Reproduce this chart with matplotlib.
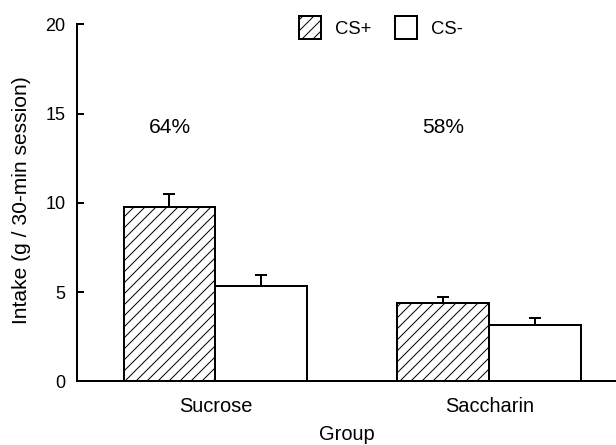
import matplotlib
matplotlib.use("Agg")
import matplotlib.pyplot as plt
from matplotlib.patches import Patch
import numpy as np

DPI = 132
W, H = 616, 445


def pt(px):
    """Convert a pixel size to points at the figure dpi."""
    return px * 72.0 / DPI


groups = ["Sucrose", "Saccharin"]
cs_plus = [9.75, 4.37]
cs_plus_sem = [0.74, 0.37]
cs_minus = [5.36, 3.15]
cs_minus_sem = [0.60, 0.38]
pct_labels = ["64%", "58%"]
y_ticks = [0, 5, 10, 15, 20]

plt.rcParams["font.family"] = ["Liberation Sans", "DejaVu Sans"]
plt.rcParams["hatch.linewidth"] = pt(1.0)

fig = plt.figure(figsize=(W / DPI, H / DPI), dpi=DPI)
ax = fig.add_axes([76.7 / W, 1 - 381.3 / H, 1 - 76.7 / W, (381.3 - 24.3) / H])

x = np.arange(1, len(groups) + 1)
bw = 0.336
lw = pt(2.0)
hatch = "////"

ax.bar(x - bw / 2, cs_plus, width=bw, color="white", edgecolor="black",
       hatch=hatch, linewidth=lw, zorder=2)
ax.bar(x + bw / 2, cs_minus, width=bw, color="white", edgecolor="black",
       linewidth=lw, zorder=2)

ax.errorbar(x - bw / 2, cs_plus, yerr=[np.zeros(len(x)), cs_plus_sem],
            fmt="none", ecolor="black", elinewidth=lw, capsize=pt(6),
            capthick=lw, zorder=1)
ax.errorbar(x + bw / 2, cs_minus, yerr=[np.zeros(len(x)), cs_minus_sem],
            fmt="none", ecolor="black", elinewidth=lw, capsize=pt(6),
            capthick=lw, zorder=1)

for xi, lab in zip(x - bw / 2, pct_labels):
    ax.text(xi, 14.2, lab, ha="center", va="center", fontsize=pt(21))

ax.set_xlim(0.493, 2.4635)
ax.set_ylim(0, 20)
ax.set_yticks(y_ticks)
ax.set_xticks(x)
ax.set_xticklabels(groups, fontsize=pt(20))
ax.tick_params(axis="y", direction="in", length=pt(7), width=lw,
               labelsize=pt(18), pad=pt(11))
ax.tick_params(axis="x", length=0, pad=pt(16))

for side in ("top", "right"):
    ax.spines[side].set_visible(False)
for side in ("left", "bottom"):
    ax.spines[side].set_linewidth(lw)

ax.set_ylabel("Intake (g / 30-min session)", fontsize=pt(21))
ax.yaxis.set_label_coords(-(76.7 - 31) / 540, (381.3 - 200) / 357)
fig.text((76.7 + 540 / 2) / W, 1 - 440 / H, "Group", ha="center",
         va="baseline", fontsize=pt(20))

handles = [
    Patch(facecolor="white", edgecolor="black", hatch=hatch, linewidth=lw, label="CS+"),
    Patch(facecolor="white", edgecolor="black", linewidth=lw, label="CS-"),
]
leg_fs = 18.5
fig.legend(handles=handles, loc="upper left", ncol=2, frameon=False,
           fontsize=pt(leg_fs), handlelength=22 / leg_fs, handleheight=1.536,
           handletextpad=14 / leg_fs, columnspacing=24 / leg_fs, borderpad=0,
           borderaxespad=0, bbox_to_anchor=(299 / W, 1 - 16 / H))

fig.savefig("out.png", dpi=DPI)
